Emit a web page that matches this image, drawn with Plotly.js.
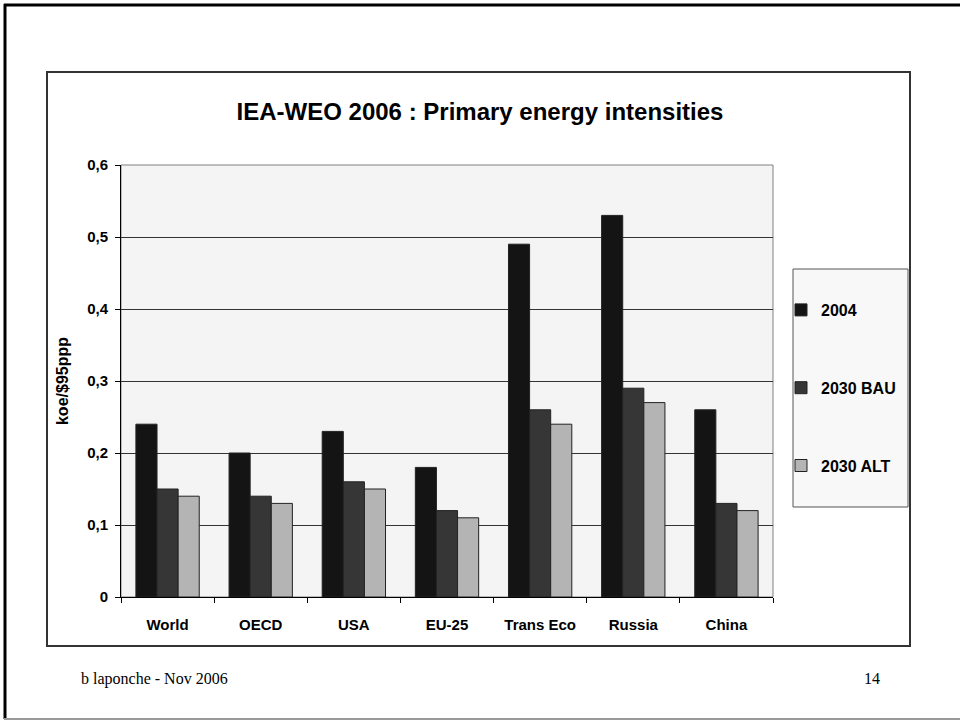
<!DOCTYPE html>
<html>
<head>
<meta charset="utf-8">
<script src="https://cdn.plot.ly/plotly-3.0.1.min.js"></script>
<style>
html,body{margin:0;padding:0;background:#fff;}
#chart{width:960px;height:721px;}
</style>
</head>
<body>
<div id="chart"></div>
<script>
const categories = ["World", "OECD", "USA", "EU-25", "Trans Eco", "Russia", "China"];
const seriesNames = ["2004", "2030 BAU", "2030 ALT"];
const v2004 = [0.24, 0.20, 0.23, 0.18, 0.49, 0.53, 0.26];
const vBAU  = [0.15, 0.14, 0.16, 0.12, 0.26, 0.29, 0.13];
const vALT  = [0.14, 0.13, 0.15, 0.11, 0.24, 0.27, 0.12];
const yTickVals = [0, 0.1, 0.2, 0.3, 0.4, 0.5, 0.6];
const yTickText = ["0", "0,1", "0,2", "0,3", "0,4", "0,5", "0,6"];
const colors = ["#141414", "#363636", "#b4b4b4"];
const seriesValues = [v2004, vBAU, vALT];

const traces = seriesValues.map((vals, i) => ({
  type: "bar",
  name: seriesNames[i],
  x: categories,
  y: vals,
  legendgroup: "g" + i,
  marker: {color: colors[i], line: {color: "#222", width: 1}},
  hoverinfo: "x+y+name"
}));

const W = 960, H = 721;
const L = 121, R = 773, T = 165, B = 597;
const pw = R - L, ph = B - T;
const px = x => (x - L) / pw;
const py = y => (B - y) / ph;
const FONT = "Liberation Sans, Arial, sans-serif";

const layout = {
  width: W, height: H,
  margin: {l: L, r: W - R, t: T, b: H - B, pad: 0},
  paper_bgcolor: "#ffffff",
  plot_bgcolor: "#f4f4f4",
  font: {family: FONT, color: "#000"},
  barmode: "group",
  bargap: 0.32,
  bargroupgap: 0,
  showlegend: true,
  title: {
    text: "<b>IEA-WEO 2006 : Primary energy intensities</b>",
    font: {family: FONT, size: 24, color: "#000"},
    x: px(480), xref: "paper", xanchor: "center",
    y: 1 - 112 / H, yref: "container", yanchor: "middle"
  },
  xaxis: {
    type: "category",
    showgrid: false,
    showline: true, linecolor: "#000", linewidth: 1,
    ticks: "outside", ticklen: 5, tickcolor: "#000",
    tickson: "boundaries",
    tickfont: {family: FONT, size: 15, color: "#000", weight: "bold"},
    ticklabelstandoff: 14,
    zeroline: false, mirror: false
  },
  yaxis: {
    range: [0, 0.6],
    tickvals: yTickVals, ticktext: yTickText,
    showgrid: true, gridcolor: "#333", gridwidth: 1,
    showline: true, linecolor: "#000", linewidth: 1,
    ticks: "outside", ticklen: 5, tickcolor: "#000",
    tickfont: {family: FONT, size: 15, color: "#000", weight: "bold"},
    ticklabelstandoff: 4,
    zeroline: false,
    title: {text: "<b>koe/$95ppp</b>", font: {family: FONT, size: 16, color: "#000"}, standoff: 14}
  },
  legend: {
    x: px(781), xanchor: "left",
    y: py(293), yanchor: "top",
    bgcolor: "rgba(0,0,0,0)",
    borderwidth: 0,
    traceorder: "grouped",
    tracegroupgap: 54,
    font: {family: FONT, size: 16, color: "#000", weight: "bold"},
    itemclick: false, itemdoubleclick: false
  },
  shapes: [
    {type: "rect", xref: "paper", yref: "paper", x0: 0, x1: 1, y0: 0, y1: 1,
     line: {color: "#808080", width: 1}, layer: "below"},
    {type: "rect", xref: "paper", yref: "paper", x0: px(47), x1: px(910), y0: py(646), y1: py(72),
     line: {color: "#333", width: 2}},
    {type: "rect", xref: "paper", yref: "paper", x0: px(793), x1: px(908), y0: py(507), y1: py(269),
     fillcolor: "#f8f8f8", line: {color: "#555", width: 1}, layer: "below"},
    {type: "line", xref: "paper", yref: "paper", x0: px(5), x1: px(5), y0: py(719), y1: py(4),
     line: {color: "#000", width: 3}},
    {type: "line", xref: "paper", yref: "paper", x0: px(4), x1: px(960), y0: py(5), y1: py(5),
     line: {color: "#000", width: 3}},
    {type: "line", xref: "paper", yref: "paper", x0: px(4), x1: px(960), y0: py(719), y1: py(719),
     line: {color: "#999", width: 2}}
  ],
  annotations: [
    {text: "b laponche - Nov 2006", xref: "paper", yref: "paper", x: px(79), y: py(679),
     xanchor: "left", yanchor: "middle", showarrow: false,
     font: {family: "Liberation Serif, Times New Roman, serif", size: 16, color: "#000"}},
    {text: "14", xref: "paper", yref: "paper", x: px(872), y: py(678),
     xanchor: "center", yanchor: "middle", showarrow: false,
     font: {family: "Liberation Serif, Times New Roman, serif", size: 16, color: "#000"}}
  ]
};

Plotly.newPlot("chart", traces, layout, {displayModeBar: false});
</script>
</body>
</html>
